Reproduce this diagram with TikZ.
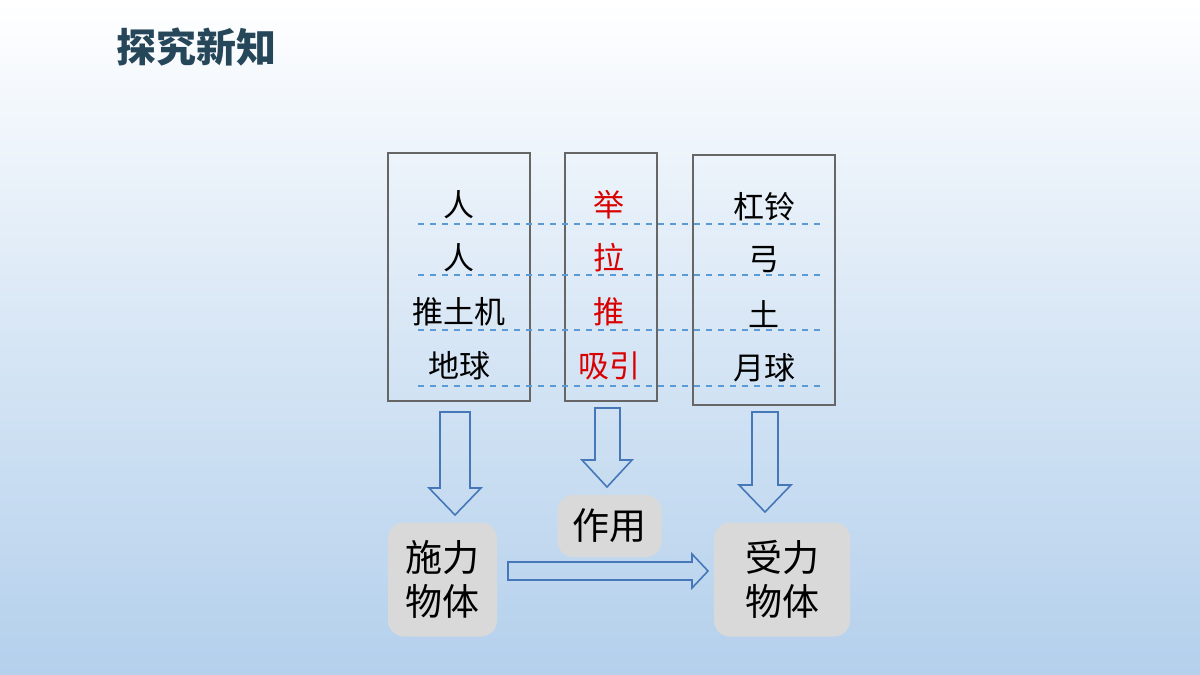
\documentclass[tikz,border=0pt]{standalone}
\usepackage{fontspec}
\setmainfont{Noto Sans CJK SC}
\definecolor{lb}{RGB}{91,155,213}
\definecolor{ab}{RGB}{70,120,185}
\begin{document}
\begin{tikzpicture}[x=0.5pt,y=-0.5pt,
  box/.style={draw=gray!80!black,line width=0.8pt},
  dline/.style={draw=lb,dashed,line width=0.7pt},
  harrow/.style={draw=ab,line width=0.8pt},
  gbox/.style={fill=gray!30,rounded corners=8pt,text=black,font=\fontsize{18.5pt}{22pt}\selectfont,align=center,inner sep=0pt},
  rowt/.style={font=\fontsize{15.5pt}{17pt}\selectfont,anchor=center,inner sep=0pt}]
\shade[top color=white,bottom color={rgb,255:red,180;green,208;blue,236},middle color={rgb,255:red,215;green,230;blue,245}] (0,0) rectangle (1200,675);
\useasboundingbox (0,0) rectangle (1200,675);
\node[font=\bfseries\fontsize{20pt}{23pt}\selectfont,text={rgb,255:red,38;green,70;blue,90},anchor=west,inner sep=0pt] (title) at (116,47) {探究新知};
\draw[box] (388,153) rectangle (530,401);
\draw[box] (565,153) rectangle (657,401);
\draw[box] (693,155) rectangle (835,405);
\foreach \y in {224,275,330,386} \draw[dline] (418,\y) -- (820,\y);
\foreach \t/\y [count=\i] in {人/205,人/258,推土机/312,地球/366} \node[rowt] (a\i) at (459,\y) {\t};
\foreach \t/\y [count=\i] in {举/205,拉/258,推/312,吸引/366} \node[rowt,text=red!85!black] (b\i) at (609,\y) {\t};
\foreach \t/\y [count=\i] in {杠铃/207,弓/260,土/314,月球/368} \node[rowt] (c\i) at (764,\y) {\t};
\draw[harrow] (440,412) -- (470,412) -- (470,488) -- (481,488) -- (455,515) -- (429,488) -- (440,488) -- cycle;
\draw[harrow] (595,408) -- (620,408) -- (620,460) -- (632,460) -- (607,487) -- (582,460) -- (595,460) -- cycle;
\draw[harrow] (752,412) -- (778,412) -- (778,485) -- (791,485) -- (765,512) -- (739,485) -- (752,485) -- cycle;
\node[gbox,minimum width=54.5pt,minimum height=57pt] (s) at (442.5,579.5) {施力\\物体};
\node[gbox,minimum width=52pt,minimum height=31pt] (z) at (609.5,526) {作用};
\node[gbox,minimum width=68pt,minimum height=57pt] (r) at (782,579.5) {受力\\物体};
\draw[harrow] (508,562) -- (692,562) -- (692,554) -- (708,571) -- (692,588) -- (692,580) -- (508,580) -- cycle;
\end{tikzpicture}
\end{document}
